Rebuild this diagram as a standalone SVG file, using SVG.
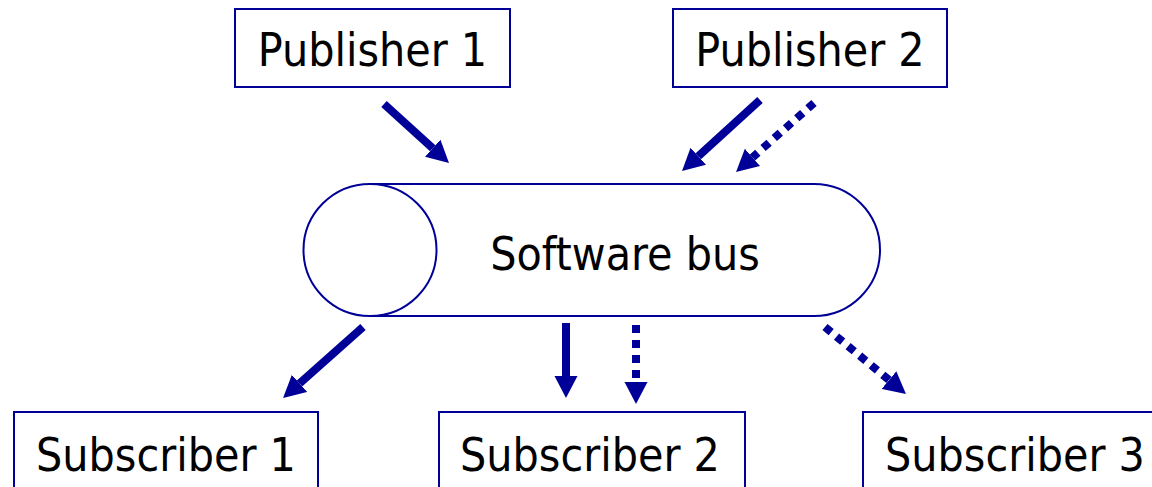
<svg xmlns="http://www.w3.org/2000/svg" width="1152" height="487" viewBox="0 0 1152 487">
  <style>
    .box { fill: #ffffff; stroke: #000099; stroke-width: 2; }
    .bus { fill: #ffffff; stroke: #000099; stroke-width: 2; }
    .label { font-family: "DejaVu Sans Condensed", "DejaVu Sans", sans-serif; font-size: 46px; fill: #000000; text-anchor: middle; }
    .shaft { stroke: #000099; stroke-width: 8; fill: none; marker-end: url(#head); }
    .dotted { stroke-dasharray: 8 7; }
  </style>
  <defs>
    <marker id="head" markerUnits="userSpaceOnUse" viewBox="0 -12 24 24" markerWidth="24" markerHeight="24" refX="0" refY="0" orient="auto">
      <path d="M0,-11.5 L22,0 L0,11.5 Z" fill="#000099"/>
    </marker>
  </defs>
  <rect width="1152" height="487" fill="#ffffff"/>

  <g id="publisher1">
    <rect class="box" x="235" y="9" width="275" height="78"/>
    <text class="label" x="372.5" y="66">Publisher 1</text>
  </g>
  <g id="publisher2">
    <rect class="box" x="673" y="9" width="274" height="78"/>
    <text class="label" x="810" y="66">Publisher 2</text>
  </g>

  <g id="software-bus">
    <path class="bus" d="M370,184 L814,184 A66,66 0 0 1 814,316 L370,316"/>
    <ellipse class="bus" cx="370" cy="250" rx="66.5" ry="66"/>
    <text class="label" x="625" y="270">Software bus</text>
  </g>

  <g id="subscriber1">
    <rect class="box" x="14" y="412" width="304" height="90"/>
    <text class="label" x="166" y="471">Subscriber 1</text>
  </g>
  <g id="subscriber2">
    <rect class="box" x="439" y="412" width="306" height="90"/>
    <text class="label" x="590" y="471">Subscriber 2</text>
  </g>
  <g id="subscriber3">
    <rect class="box" x="863" y="412" width="306" height="90"/>
    <text class="label" x="1015" y="471">Subscriber 3</text>
  </g>

  <g id="connectors">
    <line class="shaft" x1="384" y1="104" x2="432.7" y2="148.2"/>
    <line class="shaft" x1="760" y1="100" x2="698.3" y2="156.2"/>
    <line class="shaft dotted" x1="814" y1="103" x2="752.5" y2="157.4"/>
    <line class="shaft" x1="363" y1="327" x2="299.5" y2="383.4"/>
    <line class="shaft" x1="566" y1="323" x2="566" y2="376"/>
    <line class="shaft dotted" x1="636" y1="325" x2="636" y2="382"/>
    <line class="shaft dotted" x1="825" y1="327" x2="889" y2="380"/>
  </g>
</svg>
